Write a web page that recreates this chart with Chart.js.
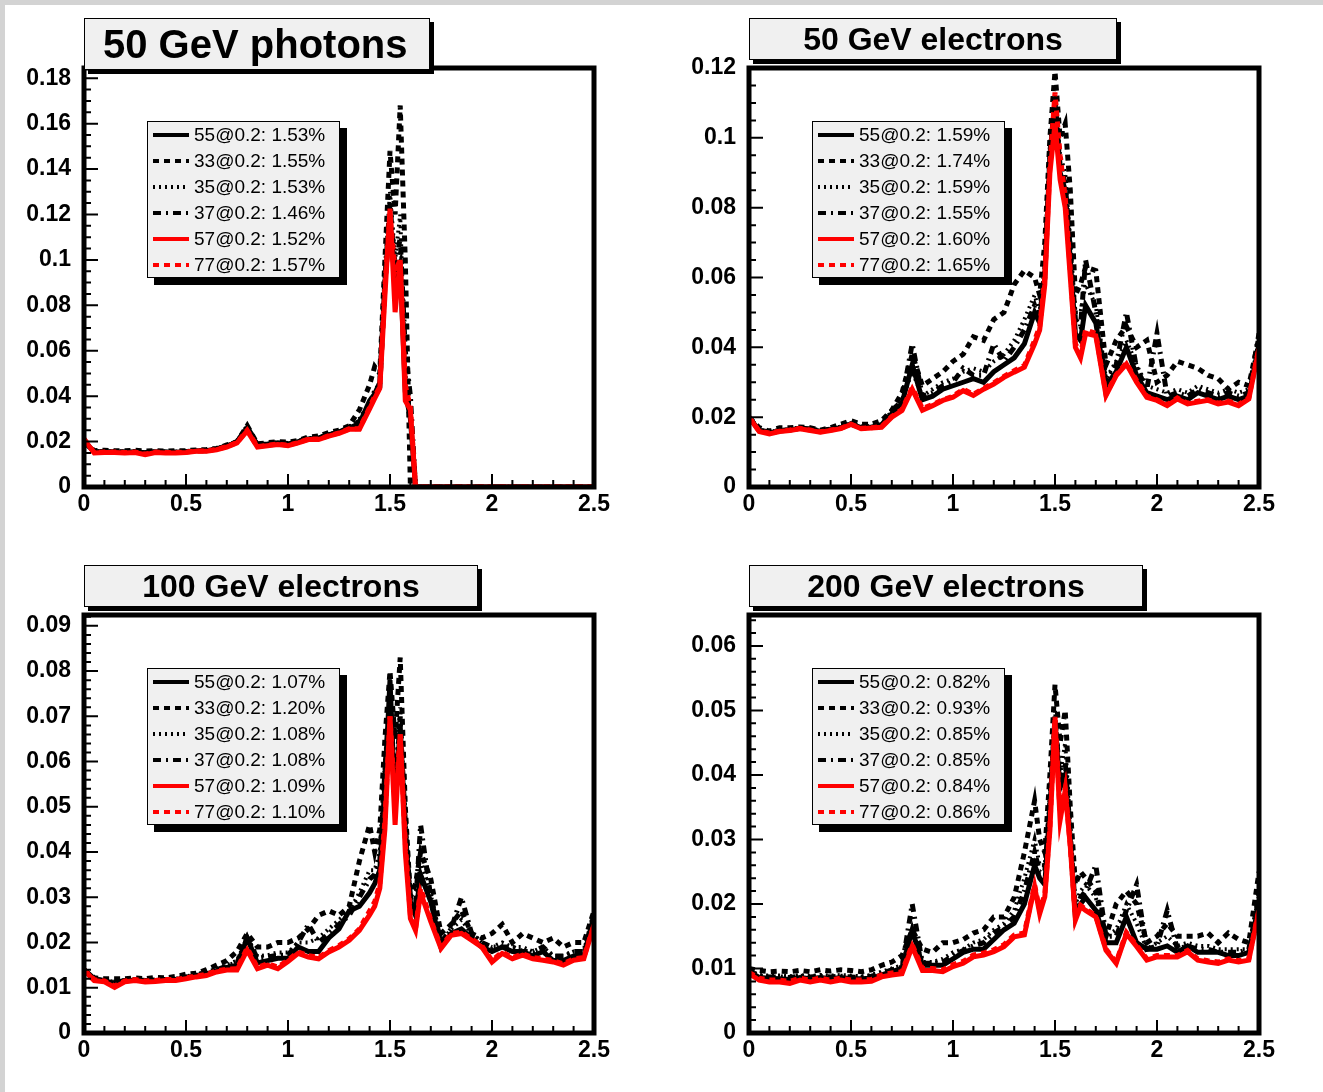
<!DOCTYPE html>
<html>
<head>
<meta charset="utf-8">
<script src="https://cdn.jsdelivr.net/npm/chart.js@4.4.1/dist/chart.umd.min.js"></script>
<style>
  body { margin: 0; width: 1323px; height: 1092px; background: #fff; position: relative; overflow: hidden;
         font-family: "Liberation Sans", Arial, Helvetica, sans-serif; }
  .edge-top { position: absolute; left: 0; top: 0; width: 1323px; height: 5px; background: #d3d3d3; z-index: 5; }
  .edge-left { position: absolute; left: 0; top: 0; width: 5px; height: 1092px; background: #d3d3d3; z-index: 5; }
  .pane { position: absolute; z-index: 1; }
  .title { position: absolute; box-sizing: border-box; background: #f0f0f0; border: 1px solid #000;
           box-shadow: 4px 4px 0 #000; font-weight: bold; color: #000; white-space: nowrap; z-index: 3; }
  .legend { position: absolute; box-sizing: border-box; width: 193px; height: 157px; background: #f0f0f0;
            border: 1px solid #000; box-shadow: 7px 7px 0 #000; z-index: 2; }
  .legend .row { height: 26px; display: flex; align-items: center; }
  .legend svg { margin-left: 5px; flex: none; }
  .legend span { margin-left: 5px; font-size: 19px; color: #000; }
</style>
</head>
<body>
<div class="edge-top"></div>
<div class="edge-left"></div>

<script>
// eta bins (x axis), finer around the barrel/endcap crack
var eta = [0, 0.05, 0.1, 0.15, 0.2, 0.25, 0.3, 0.35, 0.4, 0.45, 0.5, 0.55, 0.6, 0.65, 0.7, 0.75, 0.8, 0.85, 0.9, 0.95,
           1.0, 1.05, 1.1, 1.15, 1.2, 1.25, 1.3, 1.35,
           1.4, 1.425, 1.45, 1.475, 1.5, 1.525, 1.55, 1.575, 1.6, 1.625, 1.65,
           1.7, 1.75, 1.8, 1.85, 1.9, 1.95, 2.0, 2.05, 2.1, 2.15, 2.2, 2.25, 2.3, 2.35, 2.4, 2.45, 2.5];
var xTicks = [0, 0.5, 1, 1.5, 2, 2.5];

var series = ['55', '33', '35', '37', '57', '77'];
var colors = ['#000000', '#000000', '#000000', '#000000', '#ff0000', '#ff0000'];
var dashes = [[], [6, 5], [2, 4], [8, 5, 2, 5], [], [6, 5]];
var widths = [5, 5, 4, 5, 5, 5];
var drawOrder = [2, 5, 3, 4, 0, 1];

// 50 GeV photons
var ph55 = [0.02,0.0155,0.0155,0.0155,0.0153,0.0155,0.015,0.0155,0.0153,0.0153,0.0155,0.016,0.016,0.0168,0.018,0.0198,0.026,0.0185,0.0188,0.0195,0.019,0.02,0.0212,0.0215,0.023,0.024,0.026,0.028,
            0.038,0.041,0.046,0.09,0.118,0.09,0.098,0.042,0.03,0,0,
            0,0,0,0,0,0,0,0,0,0,0,0,0,0,0,0,0];
var ph33 = [0.02,0.016,0.0162,0.016,0.016,0.0162,0.0158,0.016,0.0158,0.016,0.016,0.0163,0.0165,0.017,0.0185,0.02,0.027,0.019,0.0195,0.02,0.0198,0.0205,0.022,0.0225,0.024,0.025,0.027,0.034,
            0.045,0.053,0.05,0.1,0.148,0.12,0.168,0.1,0,0,0,
            0,0,0,0,0,0,0,0,0,0,0,0,0,0,0,0,0];
var ph35 = [0.0205,0.0158,0.0157,0.0157,0.0156,0.0158,0.0153,0.0157,0.0156,0.0156,0.0158,0.0162,0.0163,0.017,0.0182,0.02,0.027,0.0188,0.019,0.0197,0.0193,0.0202,0.0215,0.0218,0.0233,0.0243,0.0265,0.03,
            0.037,0.043,0.045,0.095,0.13,0.1,0.12,0.05,0.03,0,0,
            0,0,0,0,0,0,0,0,0,0,0,0,0,0,0,0,0];
var ph37 = [0.02,0.0156,0.0156,0.0156,0.0154,0.0156,0.0151,0.0156,0.0154,0.0154,0.0156,0.0161,0.0161,0.0169,0.0181,0.0199,0.0265,0.0186,0.0189,0.0196,0.0191,0.0201,0.0213,0.0216,0.0231,0.0242,0.0262,0.029,
            0.036,0.04,0.044,0.092,0.125,0.095,0.11,0.06,0.04,0,0,
            0,0,0,0,0,0,0,0,0,0,0,0,0,0,0,0,0];
var ph57 = [0.021,0.015,0.0152,0.0152,0.015,0.0152,0.0142,0.0152,0.015,0.015,0.0152,0.0157,0.0157,0.0164,0.0176,0.0194,0.0247,0.0176,0.0182,0.0187,0.0182,0.0194,0.0209,0.0209,0.0224,0.0236,0.0254,0.0254,
            0.0344,0.039,0.0434,0.084,0.1226,0.077,0.1,0.038,0.034,0,0,
            0,0,0,0,0,0,0,0,0,0,0,0,0,0,0,0,0];
var ph77 = [0.0212,0.0152,0.0154,0.0154,0.0152,0.0154,0.0145,0.0154,0.0152,0.0152,0.0154,0.0159,0.0159,0.0166,0.0178,0.0196,0.025,0.0178,0.0184,0.0189,0.0184,0.0196,0.0211,0.0211,0.0226,0.0238,0.0256,0.0257,
            0.035,0.04,0.044,0.088,0.12,0.095,0.1,0.045,0.035,0,0,
            0,0,0,0,0,0,0,0,0,0,0,0,0,0,0,0,0];
var phRes = ['1.53', '1.55', '1.53', '1.46', '1.52', '1.57'];
var phYTicks = [0, 0.02, 0.04, 0.06, 0.08, 0.1, 0.12, 0.14, 0.16, 0.18];

// 50 GeV electrons
var e50_55 = [0.020,0.0162,0.0155,0.016,0.0163,0.0168,0.0165,0.016,0.0165,0.017,0.018,0.017,0.0172,0.0175,0.021,0.024,0.035,0.025,0.026,0.028,0.029,0.030,0.031,0.030,0.033,0.035,0.037,0.041,
              0.05,0.047,0.06,0.095,0.11,0.09,0.085,0.065,0.044,0.042,0.052,
              0.047,0.029,0.033,0.04,0.032,0.027,0.026,0.025,0.026,0.025,0.027,0.026,0.025,0.026,0.025,0.026,0.041];
var e50_33 = [0.020,0.017,0.016,0.017,0.017,0.0172,0.017,0.0163,0.017,0.018,0.019,0.018,0.018,0.019,0.022,0.027,0.038,0.029,0.031,0.033,0.036,0.038,0.043,0.042,0.048,0.050,0.058,0.062,
              0.06,0.055,0.07,0.1,0.119,0.1,0.104,0.085,0.055,0.058,0.063,
              0.062,0.035,0.042,0.046,0.040,0.042,0.030,0.032,0.036,0.035,0.034,0.032,0.031,0.028,0.030,0.029,0.043];
var e50_35 = [0.020,0.0165,0.0158,0.0163,0.0165,0.017,0.0167,0.0162,0.0167,0.0173,0.0183,0.0173,0.0175,0.018,0.022,0.025,0.033,0.026,0.028,0.030,0.031,0.033,0.034,0.033,0.036,0.038,0.042,0.048,
              0.055,0.05,0.063,0.097,0.112,0.095,0.09,0.07,0.05,0.05,0.058,
              0.052,0.031,0.036,0.042,0.035,0.029,0.028,0.027,0.028,0.027,0.029,0.028,0.027,0.028,0.027,0.028,0.042];
var e50_37 = [0.020,0.0163,0.0157,0.0162,0.0164,0.0169,0.0166,0.0161,0.0166,0.0172,0.0181,0.0171,0.0173,0.0178,0.0215,0.025,0.041,0.026,0.027,0.029,0.030,0.034,0.032,0.032,0.041,0.036,0.040,0.045,
              0.052,0.048,0.062,0.096,0.11,0.092,0.087,0.068,0.048,0.046,0.065,
              0.05,0.03,0.035,0.05,0.034,0.028,0.044,0.026,0.027,0.026,0.028,0.027,0.026,0.027,0.026,0.027,0.044];
var e50_57 = [0.020,0.0159,0.0152,0.0159,0.0162,0.0167,0.0162,0.0157,0.0162,0.0167,0.0179,0.0167,0.0169,0.0171,0.020,0.0219,0.028,0.022,0.0233,0.0248,0.0257,0.0276,0.0262,0.028,0.0295,0.0314,0.0329,0.0343,
              0.041,0.045,0.058,0.09,0.104,0.088,0.08,0.06,0.04,0.037,0.044,
              0.0433,0.0262,0.0319,0.0352,0.030,0.0257,0.0248,0.0233,0.0252,0.0238,0.0243,0.0248,0.0238,0.0243,0.0233,0.0252,0.0395];
var e50_77 = [0.020,0.016,0.0155,0.016,0.0163,0.0168,0.0163,0.0158,0.0163,0.0168,0.018,0.0168,0.017,0.0173,0.0202,0.0222,0.0285,0.0225,0.0236,0.025,0.026,0.028,0.0265,0.0283,0.0298,0.0317,0.0333,0.0348,
              0.042,0.046,0.06,0.092,0.113,0.095,0.083,0.062,0.041,0.038,0.045,
              0.044,0.0265,0.0322,0.0355,0.0305,0.026,0.025,0.0236,0.0255,0.024,0.0246,0.025,0.024,0.0246,0.0236,0.0255,0.04];
var e50Res = ['1.59', '1.74', '1.59', '1.55', '1.60', '1.65'];
var e50YTicks = [0, 0.02, 0.04, 0.06, 0.08, 0.1, 0.12];

// 100 GeV electrons
var e100_55 = [0.014,0.012,0.0115,0.011,0.0115,0.0117,0.0115,0.0116,0.0117,0.0118,0.0122,0.0127,0.013,0.0138,0.0145,0.015,0.021,0.0155,0.016,0.0165,0.0165,0.019,0.018,0.018,0.021,0.023,0.027,0.028,
               0.031,0.033,0.036,0.055,0.078,0.05,0.068,0.045,0.029,0.026,0.035,
               0.029,0.019,0.022,0.023,0.021,0.019,0.018,0.019,0.018,0.018,0.017,0.018,0.016,0.016,0.017,0.017,0.026];
var e100_33 = [0.014,0.0122,0.012,0.012,0.012,0.0122,0.012,0.0123,0.0122,0.0125,0.013,0.0132,0.014,0.015,0.016,0.018,0.022,0.019,0.019,0.020,0.020,0.021,0.023,0.026,0.027,0.026,0.028,0.038,
               0.046,0.040,0.045,0.065,0.080,0.065,0.083,0.05,0.03,0.033,0.04,
               0.034,0.022,0.024,0.027,0.022,0.021,0.022,0.024,0.020,0.022,0.021,0.020,0.021,0.019,0.020,0.020,0.027];
var e100_35 = [0.014,0.012,0.0117,0.0113,0.0117,0.0119,0.0117,0.0118,0.0119,0.012,0.0125,0.013,0.0134,0.0142,0.015,0.016,0.021,0.017,0.0172,0.0178,0.0178,0.02,0.02,0.021,0.023,0.025,0.027,0.031,
               0.036,0.036,0.04,0.06,0.075,0.055,0.072,0.047,0.03,0.028,0.038,
               0.031,0.02,0.023,0.025,0.022,0.02,0.019,0.02,0.019,0.019,0.018,0.019,0.017,0.017,0.018,0.018,0.027];
var e100_37 = [0.014,0.0119,0.0116,0.0112,0.0116,0.0118,0.0116,0.0117,0.0118,0.0119,0.0124,0.0129,0.0133,0.014,0.0148,0.0155,0.021,0.0165,0.0168,0.0172,0.0172,0.02,0.024,0.02,0.022,0.024,0.026,0.03,
               0.034,0.035,0.038,0.058,0.074,0.052,0.07,0.046,0.03,0.028,0.046,
               0.03,0.02,0.023,0.03,0.022,0.02,0.019,0.019,0.019,0.018,0.018,0.019,0.017,0.017,0.018,0.018,0.026];
var e100_57 = [0.0139,0.0116,0.0113,0.0101,0.0113,0.0116,0.0113,0.0114,0.0116,0.0116,0.012,0.0124,0.0127,0.0135,0.0139,0.0139,0.0183,0.0142,0.015,0.0142,0.0158,0.0176,0.0168,0.0164,0.0179,0.019,0.0205,0.0227,
               0.0261,0.028,0.032,0.045,0.07,0.046,0.066,0.04,0.0253,0.0227,0.031,
               0.0246,0.0187,0.0216,0.022,0.0205,0.019,0.0157,0.0176,0.0164,0.0172,0.0164,0.0161,0.0157,0.015,0.0161,0.0164,0.0239];
var e100_77 = [0.014,0.0118,0.0115,0.0104,0.0115,0.0118,0.0115,0.0116,0.0118,0.0118,0.0122,0.0126,0.013,0.0137,0.0141,0.0142,0.0188,0.0145,0.0153,0.0146,0.0161,0.0179,0.0171,0.0167,0.0182,0.0193,0.0208,0.023,
               0.027,0.029,0.033,0.047,0.07,0.05,0.066,0.042,0.026,0.023,0.032,
               0.025,0.019,0.022,0.0223,0.0208,0.0193,0.016,0.0179,0.0167,0.0175,0.0167,0.0164,0.016,0.0153,0.0164,0.0167,0.024];
var e100Res = ['1.07', '1.20', '1.08', '1.08', '1.09', '1.10'];
var e100YTicks = [0, 0.01, 0.02, 0.03, 0.04, 0.05, 0.06, 0.07, 0.08, 0.09];

// 200 GeV electrons
var e200_55 = [0.0095,0.0086,0.0085,0.0084,0.0083,0.0086,0.0084,0.0086,0.0084,0.0086,0.0084,0.0084,0.0085,0.009,0.0095,0.01,0.016,0.0105,0.0105,0.0105,0.0115,0.0125,0.013,0.013,0.0145,0.016,0.017,0.02,
               0.026,0.024,0.023,0.035,0.048,0.038,0.04,0.03,0.018,0.02,0.021,
               0.019,0.014,0.014,0.018,0.014,0.013,0.013,0.0135,0.0125,0.0135,0.0125,0.0125,0.0125,0.012,0.012,0.0125,0.02];
var e200_33 = [0.01,0.0097,0.0095,0.0096,0.0095,0.0097,0.0095,0.0098,0.0096,0.0098,0.0097,0.0095,0.0098,0.0105,0.011,0.012,0.016,0.013,0.0125,0.014,0.014,0.0145,0.0155,0.016,0.018,0.018,0.021,0.028,
               0.036,0.03,0.028,0.04,0.054,0.045,0.05,0.035,0.023,0.025,0.024,
               0.022,0.015,0.02,0.022,0.02,0.014,0.015,0.017,0.015,0.015,0.015,0.0155,0.014,0.0155,0.0145,0.014,0.025];
var e200_35 = [0.0097,0.009,0.0089,0.0089,0.0088,0.009,0.0088,0.009,0.0089,0.009,0.0089,0.0088,0.009,0.0095,0.01,0.0105,0.016,0.011,0.011,0.0115,0.0125,0.013,0.014,0.0145,0.016,0.017,0.019,0.024,
               0.03,0.026,0.026,0.037,0.05,0.04,0.045,0.032,0.02,0.022,0.023,
               0.021,0.015,0.016,0.02,0.017,0.013,0.014,0.015,0.0135,0.014,0.0135,0.0135,0.013,0.013,0.013,0.013,0.022];
var e200_37 = [0.0096,0.0088,0.0087,0.0087,0.0086,0.0088,0.0087,0.0088,0.0087,0.0088,0.0087,0.0086,0.0088,0.0092,0.0098,0.0102,0.02,0.0108,0.0108,0.011,0.012,0.0128,0.0135,0.014,0.0155,0.0165,0.018,0.022,
               0.028,0.025,0.025,0.036,0.049,0.039,0.042,0.031,0.019,0.021,0.022,
               0.026,0.015,0.015,0.019,0.023,0.013,0.0135,0.019,0.013,0.0135,0.013,0.013,0.0125,0.0125,0.0125,0.013,0.021];
var e200_57 = [0.0092,0.0082,0.0079,0.0079,0.0077,0.0082,0.0079,0.0082,0.0079,0.0082,0.0079,0.0079,0.008,0.0087,0.009,0.0092,0.0134,0.0097,0.0097,0.0095,0.0103,0.0108,0.0118,0.0121,0.0126,0.0134,0.0149,0.0152,
               0.0227,0.0185,0.0211,0.0314,0.0485,0.033,0.0376,0.0289,0.0175,0.0196,0.019,
               0.018,0.0128,0.0108,0.0154,0.0134,0.0113,0.0118,0.0118,0.0118,0.0126,0.0113,0.011,0.0108,0.0113,0.011,0.0113,0.019];
var e200_77 = [0.0094,0.0085,0.0082,0.0082,0.008,0.0085,0.0082,0.0085,0.0082,0.0085,0.0082,0.0082,0.0083,0.009,0.0093,0.0095,0.0137,0.01,0.01,0.0098,0.0106,0.0111,0.0121,0.0124,0.0129,0.0137,0.0152,0.0155,
               0.023,0.019,0.0215,0.032,0.049,0.034,0.038,0.029,0.018,0.0198,0.0192,
               0.0182,0.013,0.011,0.0156,0.0136,0.0115,0.012,0.012,0.012,0.0128,0.0115,0.0112,0.011,0.0115,0.0112,0.0115,0.0192];
var e200Res = ['0.82', '0.93', '0.85', '0.85', '0.84', '0.86'];
var e200YTicks = [0, 0.01, 0.02, 0.03, 0.04, 0.05, 0.06];

// layout of the four pads (frame = plot box in page pixels)
var pads = [
  { title: '50 GeV photons', titleBox: [84, 18, 346, 52], titleSize: 40, titleAlign: 'left',
    frame: [84, 68, 594, 487], ymax: 0.1845, yTicks: phYTicks, yMinor: 4,
    vals: [ph55, ph33, ph35, ph37, ph57, ph77], res: phRes },
  { title: '50 GeV electrons', titleBox: [749, 18, 368, 42], titleSize: 32, titleAlign: 'center',
    frame: [749, 68, 1259, 487], ymax: 0.12, yTicks: e50YTicks, yMinor: 4,
    vals: [e50_55, e50_33, e50_35, e50_37, e50_57, e50_77], res: e50Res },
  { title: '100 GeV electrons', titleBox: [84, 565, 394, 42], titleSize: 32, titleAlign: 'center',
    frame: [84, 615, 594, 1033], ymax: 0.0924, yTicks: e100YTicks, yMinor: 5,
    vals: [e100_55, e100_33, e100_35, e100_37, e100_57, e100_77], res: e100Res },
  { title: '200 GeV electrons', titleBox: [749, 565, 394, 42], titleSize: 32, titleAlign: 'center',
    frame: [749, 615, 1259, 1033], ymax: 0.0648, yTicks: e200YTicks, yMinor: 5,
    vals: [e200_55, e200_33, e200_35, e200_37, e200_57, e200_77], res: e200Res }
];

var FONT = '"Liberation Sans", Arial, Helvetica, sans-serif';
var PADL = 84, PADT = 20, PADR = 36, PADB = 40;

function fmt(v) { return String(+Number(v).toFixed(4)); }

// thick frame + inward ticks like a ROOT pad
var frameTicks = {
  id: 'frameTicks',
  afterDraw: function (chart, args, opts) {
    var ctx = chart.ctx, a = chart.chartArea, x = chart.scales.x, y = chart.scales.y;
    ctx.save();
    ctx.strokeStyle = '#000';
    ctx.lineWidth = 2;
    ctx.beginPath();
    var xMinorStep = 0.1;
    for (var i = 0; i * xMinorStep <= x.max + 1e-9; i++) {
      var px = x.getPixelForValue(i * xMinorStep);
      ctx.moveTo(px, a.bottom);
      ctx.lineTo(px, a.bottom - (i % 5 === 0 ? 13 : 7));
    }
    var yStep = opts.yStep / opts.yMinor;
    for (var j = 0; j * yStep <= y.max + 1e-9; j++) {
      var py = y.getPixelForValue(j * yStep);
      ctx.moveTo(a.left, py);
      ctx.lineTo(a.left + (j % opts.yMinor === 0 ? 14 : 7), py);
    }
    ctx.stroke();
    ctx.lineWidth = 5;
    ctx.strokeRect(a.left, a.top, a.right - a.left, a.bottom - a.top);
    ctx.restore();
  }
};

pads.forEach(function (p, n) {
  var l = p.frame[0], t = p.frame[1], r = p.frame[2], b = p.frame[3];

  // chart
  var box = document.createElement('div');
  box.className = 'pane';
  box.style.left = (l - PADL) + 'px';
  box.style.top = (t - PADT) + 'px';
  var cv = document.createElement('canvas');
  cv.width = (r - l) + PADL + PADR;
  cv.height = (b - t) + PADT + PADB;
  box.appendChild(cv);
  document.body.appendChild(box);

  var datasets = series.map(function (s, k) {
    return {
      label: s + '@0.2: ' + p.res[k] + '%',
      data: eta.map(function (xv, i) { return { x: xv, y: p.vals[k][i] }; }),
      borderColor: colors[k],
      borderWidth: widths[k],
      borderDash: dashes[k],
      pointRadius: 0,
      tension: 0,
      fill: false,
      order: drawOrder[k]
    };
  });

  new Chart(cv, {
    type: 'line',
    data: { datasets: datasets },
    plugins: [frameTicks],
    options: {
      responsive: false,
      animation: false,
      events: [],
      layout: { padding: { left: 0, top: PADT, right: PADR, bottom: 0 } },
      plugins: {
        legend: { display: false },
        tooltip: { enabled: false },
        frameTicks: { yStep: p.yTicks[1], yMinor: p.yMinor }
      },
      scales: {
        x: {
          type: 'linear', min: 0, max: 2.5,
          grid: { display: false }, border: { display: false },
          afterBuildTicks: function (s) { s.ticks = xTicks.map(function (v) { return { value: v }; }); },
          afterFit: function (s) { s.height = PADB; s.paddingLeft = 0; s.paddingRight = 0; },
          ticks: { color: '#000', padding: -4, maxRotation: 0, autoSkip: false,
                   font: { family: FONT, size: 23, weight: 'bold' }, callback: fmt }
        },
        y: {
          type: 'linear', min: 0, max: p.ymax,
          grid: { display: false }, border: { display: false },
          afterBuildTicks: function (s) { s.ticks = p.yTicks.map(function (v) { return { value: v }; }); },
          afterFit: function (s) { s.width = PADL; s.paddingTop = 0; s.paddingBottom = 0; },
          ticks: { color: '#000', padding: 5, autoSkip: false,
                   font: { family: FONT, size: 23, weight: 'bold' }, callback: fmt }
        }
      }
    }
  });

  // title box
  var tb = document.createElement('div');
  tb.className = 'title';
  tb.style.left = p.titleBox[0] + 'px';
  tb.style.top = p.titleBox[1] + 'px';
  tb.style.width = p.titleBox[2] + 'px';
  tb.style.height = p.titleBox[3] + 'px';
  tb.style.lineHeight = (p.titleBox[3] - 2) + 'px';
  tb.style.fontSize = p.titleSize + 'px';
  tb.style.textAlign = p.titleAlign;
  if (p.titleAlign === 'left') tb.style.paddingLeft = '18px';
  tb.textContent = p.title;
  document.body.appendChild(tb);

  // legend box
  var lg = document.createElement('div');
  lg.className = 'legend';
  lg.style.left = (l + 63) + 'px';
  lg.style.top = (t + 53) + 'px';
  series.forEach(function (s, k) {
    var row = document.createElement('div');
    row.className = 'row';
    var dash = dashes[k].length ? ' stroke-dasharray="' + dashes[k].join(' ') + '"' : '';
    row.innerHTML = '<svg width="36" height="8"><line x1="0" y1="4" x2="36" y2="4" stroke="' + colors[k] +
      '" stroke-width="4"' + dash + '/></svg><span>' + datasets[k].label + '</span>';
    lg.appendChild(row);
  });
  document.body.appendChild(lg);
});
</script>
</body>
</html>
